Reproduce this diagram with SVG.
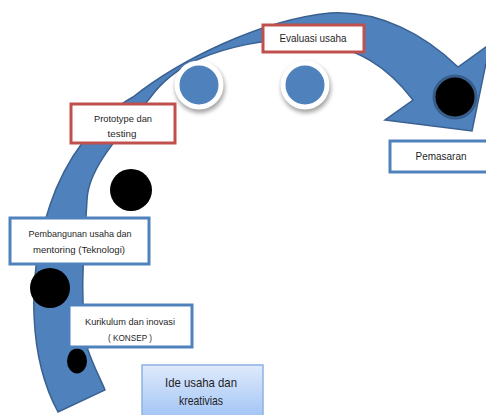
<svg xmlns="http://www.w3.org/2000/svg" width="486" height="415" viewBox="0 0 486 415">
<defs>
<style>
.box{fill:#ffffff;stroke-width:3}
.red{stroke:#c0504d}
.blue{stroke:#4f81bd}
.t{font-family:"Liberation Sans",Arial,sans-serif;fill:#1f1f1f;text-anchor:middle}
.s9{font-size:9.8px}
.s10{font-size:11px}
.s12{font-size:13px}
.bc{fill:#4f81bd;stroke:#ffffff;stroke-width:5}
.blk{fill:#000000}
</style>
<linearGradient id="g" x1="0" y1="0" x2="0" y2="1">
<stop offset="0" stop-color="#dfeafc"/>
<stop offset="1" stop-color="#9ec2f5"/>
</linearGradient>
<filter id="sh" x="-50%" y="-50%" width="200%" height="200%">
<feGaussianBlur stdDeviation="2"/>
</filter>
</defs>
<g id="connectors">
<path id="arrow" d="M58,412 C30,360 25,280 50,205 C65,160 95,118 133,97 C180,60 260,20 330,13 C380,10 425,35 458,67 L490,44 L472,131 L385,120 L413,100 C390,70 360,45 300,40 C265,38 225,48 199,59 C175,70 160,84 150,98 C115,140 88,170 87,200 C85,240 78,300 88,350 C93,365 100,378 105,390 Z" fill="#4f81bd" stroke="#3a6190" stroke-width="1.5"/>
</g>
<g id="circle-blue-1">
<circle cx="200" cy="88" r="25" fill="#000" opacity="0.35" filter="url(#sh)"/>
<circle class="bc" cx="199" cy="85" r="22"/>
</g>
<g id="circle-blue-2">
<circle cx="306" cy="88" r="25" fill="#000" opacity="0.35" filter="url(#sh)"/>
<circle class="bc" cx="305" cy="85" r="22"/>
</g>
<g id="circle-black-head">
<circle cx="455" cy="97" r="21" fill="#000" stroke="#385d8a" stroke-width="3"/>
</g>
<g id="circle-black-1">
<circle class="blk" cx="131" cy="190" r="21"/>
</g>
<g id="circle-black-2">
<circle class="blk" cx="50" cy="288" r="20"/>
</g>
<g id="circle-black-3">
<ellipse class="blk" cx="77" cy="361" rx="10" ry="12.5"/>
</g>
<g id="node-prototype">
<rect class="box red" x="71" y="104" width="104" height="39"/>
<text class="t s9" x="123" y="121.5" textLength="58" lengthAdjust="spacingAndGlyphs">Prototype  dan</text>
<text class="t s9" x="122" y="137" textLength="29" lengthAdjust="spacingAndGlyphs">testing</text>
</g>
<g id="node-evaluasi">
<rect class="box red" x="263" y="25" width="101" height="27"/>
<text class="t s10" x="313" y="42" textLength="67" lengthAdjust="spacingAndGlyphs">Evaluasi usaha</text>
</g>
<g id="node-pemasaran">
<rect class="box blue" x="390" y="141" width="102" height="31"/>
<text class="t s10" x="441" y="160" textLength="51" lengthAdjust="spacingAndGlyphs">Pemasaran</text>
</g>
<g id="node-pembangunan">
<rect class="box blue" x="10" y="218" width="139" height="46"/>
<text class="t s9" x="80" y="237" textLength="103" lengthAdjust="spacingAndGlyphs">Pembangunan  usaha dan</text>
<text class="t s9" x="79" y="253" textLength="92" lengthAdjust="spacingAndGlyphs">mentoring  (Teknologi)</text>
</g>
<g id="node-kurikulum">
<rect class="box blue" x="69" y="305" width="123" height="42"/>
<text class="t s9" x="130" y="324.5" textLength="90" lengthAdjust="spacingAndGlyphs">Kurikulum  dan inovasi</text>
<text class="t s9" x="130" y="340.5" textLength="44" lengthAdjust="spacingAndGlyphs">( KONSEP )</text>
</g>
<g id="node-ide">
<rect x="142" y="365" width="121" height="56" fill="url(#g)" stroke="#8db3e2" stroke-width="1.5"/>
<text class="t s12" x="201" y="387" textLength="72" lengthAdjust="spacingAndGlyphs">Ide usaha dan</text>
<text class="t s12" x="201" y="405" textLength="44" lengthAdjust="spacingAndGlyphs">kreativias</text>
</g>
</svg>
